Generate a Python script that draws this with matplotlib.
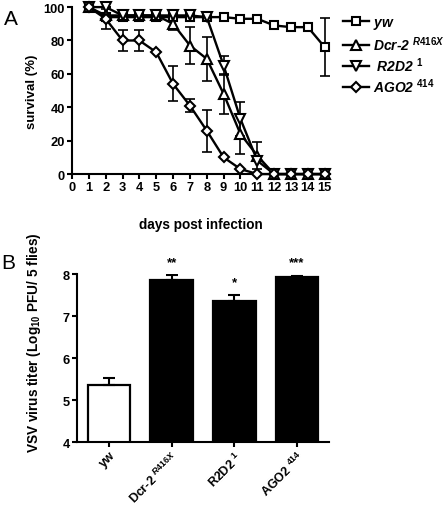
import numpy as np
import matplotlib
matplotlib.use("Agg")
import matplotlib.pyplot as plt

plt.rcParams['font.family'] = ['Liberation Sans', 'DejaVu Sans']
plt.rcParams['font.weight'] = 'bold'
plt.rcParams['mathtext.fontset'] = 'custom'
plt.rcParams['mathtext.rm'] = 'Liberation Sans:bold'
plt.rcParams['mathtext.it'] = 'Liberation Sans:bold:italic'
plt.rcParams['mathtext.bf'] = 'Liberation Sans:bold'

# ---- panel A: survival ----
days = np.arange(1, 16)
yw = [100, 94, 94, 94, 94, 94, 94, 94, 94, 93, 93, 89, 88, 88, 76]
yw_err = [0, 0, 0, 0, 0, 0, 0, 0, 0, 0, 0, 0, 0, 0, 17.5]
dcr2 = [100, 95, 95, 95, 95, 90, 77, 69, 48, 24, 11, 0, 0, 0, 0]
dcr2_err = [0, 0, 0, 0, 0, 4, 11, 13, 12, 12, 8, 0, 0, 0, 0]
r2d2 = [100, 100, 95, 95, 95, 95, 95, 94, 65, 33, 8, 0, 0, 0, 0]
r2d2_err = [0, 0, 0, 0, 0, 0, 0, 0, 5.5, 10, 0, 0, 0, 0, 0]
ago2 = [100, 93, 80, 80, 73, 54, 41, 26, 10, 3, 0, 0, 0, 0, 0]
ago2_err = [0, 6, 6, 6, 0, 10.5, 4, 12.5, 0, 0, 0, 0, 0, 0, 0]

series = [
    (yw, yw_err, 's', r'$\mathit{yw}$', 6),
    (dcr2, dcr2_err, '^', r'Dcr-2 $^{\mathit{R416X}}$', 7),
    (r2d2, r2d2_err, 'v', r' R2D2 $^{\mathit{1}}$', 7),
    (ago2, ago2_err, 'D', r'AGO2 $^{\mathit{414}}$', 5.5),
]

# ---- panel B: virus titer ----
strains = ['yw', r'Dcr-2 $^{R416X}$', r'R2D2 $^{1}$', r'AGO2 $^{414}$']
titer = [5.35, 7.85, 7.35, 7.93]
titer_err = [0.18, 0.12, 0.15, 0.03]
signif = ['', '**', '*', '***']
bar_colors = ['white', 'black', 'black', 'black']

fig = plt.figure(figsize=(4.46, 5.06), dpi=100)

axA = fig.add_axes([0.1614, 0.654, 0.578, 0.330])
for vals, err, mk, lab, ms in series:
    axA.errorbar(days, vals, yerr=err, fmt='none', ecolor='black',
                 elinewidth=1.2, capsize=3.5, capthick=1.2, clip_on=False,
                 zorder=2)
    axA.plot(days, vals, color='black', lw=1.7, marker=mk, ms=ms,
             mfc='white', mec='black', mew=1.5, label=lab, clip_on=False,
             zorder=3)
axA.set_xlim(0, 15.3)
axA.set_ylim(0, 100)
axA.set_xticks(range(0, 16))
axA.set_yticks(range(0, 101, 20))
axA.set_ylabel('survival (%)', fontsize=9.5, fontweight='bold')
axA.yaxis.set_label_coords(-0.13, 0.5)
axA.set_xlabel('days post infection', fontsize=9.8, fontweight='bold')
axA.xaxis.set_label_coords(0.5, -0.255)
axA.text(-0.265, 0.93, 'A', transform=axA.transAxes, fontsize=15,
         fontweight='normal', ha='left', va='center')

leg = axA.legend(loc='upper left', bbox_to_anchor=(0.768, 0.968),
                 bbox_transform=fig.transFigure, frameon=False, fontsize=10,
                 handlelength=1.9, handletextpad=0.3, labelspacing=0.2,
                 borderpad=0, borderaxespad=0)
for t in leg.get_texts():
    t.set_fontstyle('italic')
    t.set_fontweight('bold')

axB = fig.add_axes([0.1726, 0.1245, 0.565, 0.332])
xpos = np.arange(len(strains))
axB.bar(xpos, titer, width=0.68, bottom=0, color=bar_colors,
        edgecolor='black', linewidth=1.6, zorder=2)
axB.errorbar(xpos, titer, yerr=[np.zeros(len(titer)), titer_err], fmt='none',
             ecolor='black', elinewidth=1.5, capsize=4.5, capthick=1.5, zorder=3)
for x, v, e, s in zip(xpos, titer, titer_err, signif):
    axB.text(x, v + e + 0.17, s, ha='center', va='bottom', fontsize=9.5,
             fontweight='bold', clip_on=False)
axB.set_xlim(-0.51, 3.51)
axB.set_ylim(4, 8)
axB.set_yticks([4, 5, 6, 7, 8])
axB.set_xticks(xpos)
axB.set_xticklabels(strains, rotation=45, ha='right', va='top',
                    rotation_mode='anchor', fontsize=9, fontweight='bold')
axB.set_ylabel(r'VSV virus titer (Log$_{\mathbf{10}}$ PFU/ 5 flies)',
               fontsize=9.8, fontweight='bold')
axB.yaxis.set_label_coords(-0.135, 0.6)
axB.text(-0.3, 1.07, 'B', transform=axB.transAxes, fontsize=15,
         fontweight='normal', ha='left', va='center')

for ax in (axA, axB):
    for side in ('top', 'right'):
        ax.spines[side].set_visible(False)
    for side in ('left', 'bottom'):
        ax.spines[side].set_linewidth(1.5)
    ax.tick_params(width=1.5, length=3.5, labelsize=9.3, pad=1.5)
    for lbl in ax.get_yticklabels():
        lbl.set_fontweight('bold')
for lbl in axA.get_xticklabels():
    lbl.set_fontweight('bold')
for lbl in axB.get_xticklabels():
    lbl.set_fontsize(9)

fig.savefig('out.png', dpi=100)
